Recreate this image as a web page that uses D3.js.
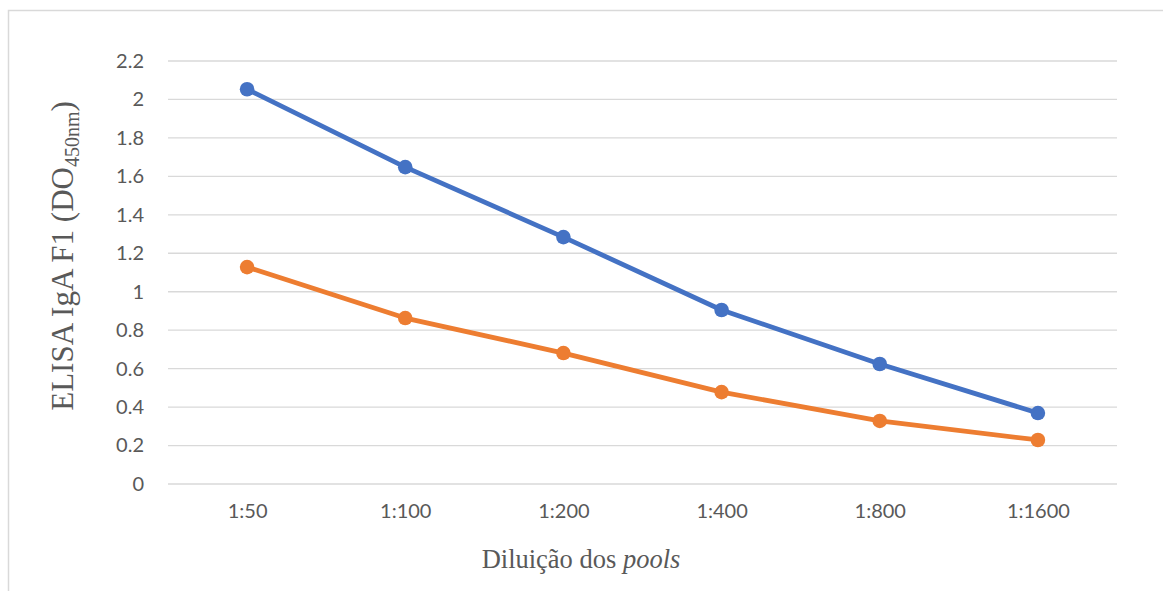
<!DOCTYPE html>
<html>
<head>
<meta charset="utf-8">
<script src="https://cdn.jsdelivr.net/npm/d3@7/dist/d3.min.js"></script>
<style>
  html, body { margin: 0; padding: 0; background: #fff; }
  svg { display: block; }
</style>
</head>
<body>
<svg id="chart" width="1163" height="591"></svg>
<script>
// Dilutions on the x axis
const dilutions = ["1:50", "1:100", "1:200", "1:400", "1:800", "1:1600"];
// Optical density at 450 nm for each pool
const seriesBlue = [2.053, 1.648, 1.284, 0.905, 0.624, 0.369];
const seriesOrange = [1.128, 0.863, 0.681, 0.478, 0.328, 0.229];
// Y axis ticks
const yTicks = [0, 0.2, 0.4, 0.6, 0.8, 1, 1.2, 1.4, 1.6, 1.8, 2, 2.2];

const svg = d3.select("#chart");
const W = 1163, H = 591;
const plot = { left: 168, right: 1117, top: 61, bottom: 484 };
const tickFont = "Lato, 'Open Sans', sans-serif";
const titleFont = "'Liberation Serif', 'Times New Roman', serif";

// Outer frame (continues past the right and bottom edges)
svg.append("path")
  .attr("d", `M8.5,${H + 2} L8.5,10.5 L${W + 2},10.5`)
  .attr("fill", "none")
  .attr("stroke", "#d9d9d9")
  .attr("stroke-width", 1.5);

const x = d3.scalePoint()
  .domain(dilutions)
  .range([plot.left, plot.right])
  .padding(0.5);

const y = d3.scaleLinear()
  .domain([0, 2.2])
  .range([plot.bottom, plot.top]);

// Horizontal gridlines
svg.append("g")
  .selectAll("line")
  .data(yTicks)
  .join("line")
  .attr("x1", plot.left)
  .attr("x2", plot.right)
  .attr("y1", d => y(d))
  .attr("y2", d => y(d))
  .attr("stroke", "#d9d9d9")
  .attr("stroke-width", 1.3);

// Y axis labels
const yAxis = d3.axisLeft(y).tickValues(yTicks).tickSize(0).tickPadding(0)
  .tickFormat(d => String(+d.toFixed(1)));
const gy = svg.append("g")
  .attr("transform", `translate(144,0)`)
  .call(yAxis);
gy.select(".domain").remove();
gy.selectAll("text")
  .attr("font-family", tickFont)
  .attr("font-size", 20)
  .attr("fill", "#595959");

// X axis labels
const xAxis = d3.axisBottom(x).tickSize(0).tickPadding(0);
const gx = svg.append("g")
  .attr("transform", `translate(0,504)`)
  .call(xAxis);
gx.select(".domain").remove();
gx.selectAll("text")
  .attr("font-family", tickFont)
  .attr("font-size", 20)
  .attr("fill", "#595959");

// Series lines and markers
const line = d3.line()
  .x((d, i) => x(dilutions[i]))
  .y(d => y(d));

const series = [
  { values: seriesBlue, color: "#4472c4" },
  { values: seriesOrange, color: "#ed7d31" }
];

series.forEach(s => {
  svg.append("path")
    .datum(s.values)
    .attr("d", line)
    .attr("fill", "none")
    .attr("stroke", s.color)
    .attr("stroke-width", 4.8)
    .attr("stroke-linejoin", "round");
  svg.append("g")
    .selectAll("circle")
    .data(s.values)
    .join("circle")
    .attr("cx", (d, i) => x(dilutions[i]))
    .attr("cy", d => y(d))
    .attr("r", 7.3)
    .attr("fill", s.color);
});

// Y axis title
const yTitle = svg.append("text")
  .attr("transform", `translate(73,256) rotate(-90)`)
  .attr("text-anchor", "middle")
  .attr("font-family", titleFont)
  .attr("font-size", 31)
  .attr("fill", "#595959");
yTitle.append("tspan").text("ELISA IgA F1 (DO");
yTitle.append("tspan").attr("font-size", 20).attr("dy", 6).text("450nm");
yTitle.append("tspan").attr("dy", -6).text(")");

// X axis title
const xTitle = svg.append("text")
  .attr("x", 581)
  .attr("y", 568)
  .attr("text-anchor", "middle")
  .attr("font-family", titleFont)
  .attr("font-size", 26.5)
  .attr("fill", "#595959");
xTitle.append("tspan").text("Diluição dos ");
xTitle.append("tspan").attr("font-style", "italic").text("pools");
</script>
</body>
</html>
